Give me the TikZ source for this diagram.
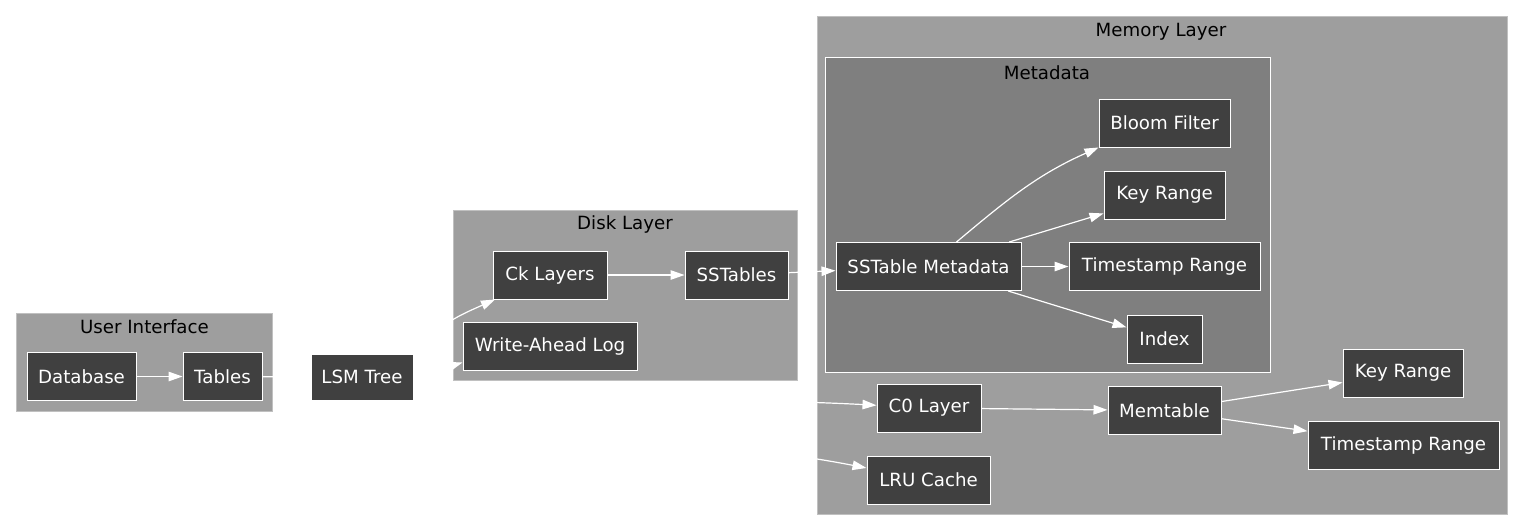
\documentclass[tikz,border=0pt]{standalone}
\usepackage{fontspec}
\setmainfont{DejaVu Sans}
\usetikzlibrary{arrows.meta}
\definecolor{clusterfill}{RGB}{158,158,158}
\definecolor{metafill}{RGB}{127,127,127}
\definecolor{nodefill}{RGB}{64,64,64}
\definecolor{clusterline}{RGB}{192,192,192}
\begin{document}
\begin{tikzpicture}[x=1pt,y=-1pt,
  every node/.style={font=\fontsize{18.2}{22}\selectfont},
  box/.style={draw=white, fill=nodefill, text=white, line width=1pt, inner sep=0pt, minimum height=48pt},
  cluster/.style={draw=clusterline, fill=clusterfill, line width=1pt},
  metacluster/.style={draw=white, fill=metafill, line width=1pt},
  ctitle/.style={text=black, inner sep=0pt},
  conn/.style={draw=white, line width=1.2pt, -{Triangle[length=14pt,width=9.5pt]}}]
\useasboundingbox (0,0) rectangle (1525,531);
\fill[white] (0,0) rectangle (1525,531);
% clusters
\draw[cluster] (16.5,313) rectangle (272,411.5);
\node[ctitle] (uititle) at (144.5,327) {User Interface};
\draw[cluster] (453,210) rectangle (797.5,380);
\node[ctitle] (disktitle) at (625,224.5) {Disk Layer};
\draw[cluster] (817,16) rectangle (1507.5,514);
\node[ctitle] (memtitle) at (1161,31.5) {Memory Layer};
\draw[metacluster] (825,57) rectangle (1270.5,372.5);
\node[ctitle] (metatitle) at (1047,72.5) {Metadata};
% nodes
\node[box, minimum width=109pt] (db) at (81.5,376.5) {Database};
\node[box, minimum width=79pt] (tables) at (222.5,376.5) {Tables};
\node[box, minimum width=102pt, minimum height=46pt] (lsm) at (362,377) {LSM Tree};
\node[box, minimum width=114pt] (ck) at (550,275) {Ck Layers};
\node[box, minimum width=103pt] (sst) at (736.5,275) {SSTables};
\node[box, minimum width=174pt] (wal) at (550,346.5) {Write-Ahead Log};
\node[box, minimum width=185pt] (sstm) at (928.5,266.5) {SSTable Metadata};
\node[box, minimum width=131pt] (bloom) at (1164.5,123) {Bloom Filter};
\node[box, minimum width=121pt] (krm) at (1164.5,195) {Key Range};
\node[box, minimum width=191pt] (tsm) at (1164.5,266.5) {Timestamp Range};
\node[box, minimum width=75pt] (idx) at (1164.5,339) {Index};
\node[box, minimum width=104pt] (c0) at (929,408) {C0 Layer};
\node[box, minimum width=123pt] (lru) at (928.5,480) {LRU Cache};
\node[box, minimum width=113pt] (memt) at (1164.5,410.5) {Memtable};
\node[box, minimum width=120pt] (krmem) at (1403,373) {Key Range};
\node[box, minimum width=191pt] (tsmem) at (1403.5,445) {Timestamp Range};
\coordinate (sstmtop) at ([xshift=28pt]sstm.north);
\coordinate (walin) at ([yshift=-16pt]wal.west);
% connectors
\draw[conn] (db) -- (tables);
\draw[conn] (tables) -- (lsm);
\draw[conn] (lsm.north east) to[out=50, in=204] (ck);
\draw[conn] (lsm.east) to[out=10, in=197] (walin);
\draw[conn] (ck) -- (sst);
\draw[conn] (sst) -- (sstm);
\draw[conn] (sstmtop) to[out=40, in=204] (bloom.south west);
\draw[conn] (sstm) -- (krm);
\draw[conn] (sstm) -- (tsm);
\draw[conn] (sstm) -- (idx);
\draw[conn] (lsm.east) to[out=-10, in=177] (c0);
\draw[conn] (lsm.east) to[out=-25, in=169] (lru);
\draw[conn] (c0) -- (memt);
\draw[conn] (memt) -- (krmem);
\draw[conn] (memt) -- (tsmem);
\end{tikzpicture}
\end{document}
